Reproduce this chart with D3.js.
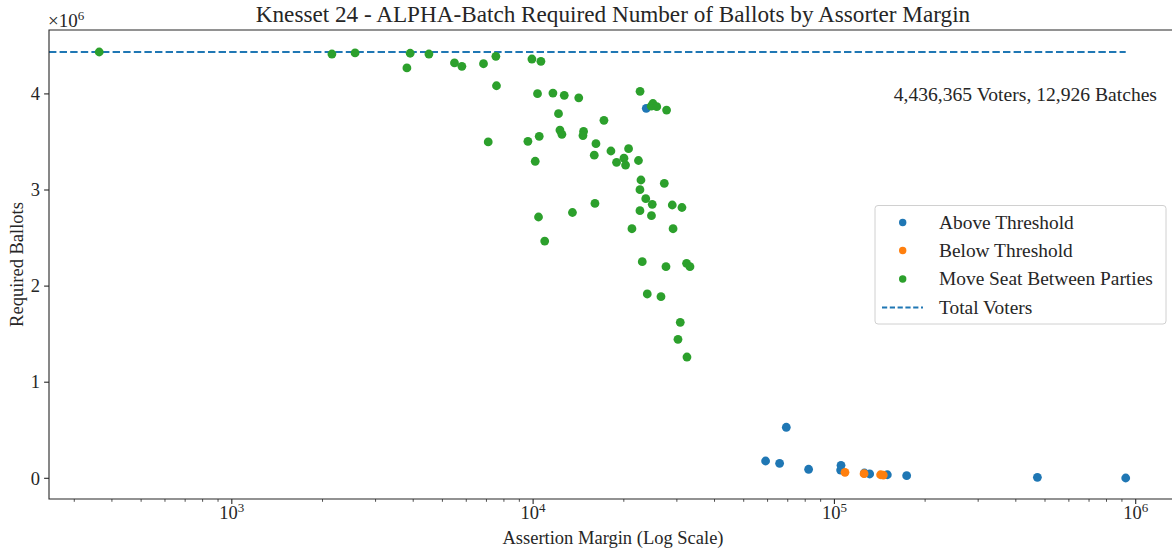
<!DOCTYPE html>
<html>
<head>
<meta charset="utf-8">
<script src="https://cdn.jsdelivr.net/npm/d3@7"></script>
<style>
  body { margin: 0; background: #fff; }
  svg { display: block; font-family: "Liberation Serif", "Times New Roman", serif; }
  text { fill: #262626; }
</style>
</head>
<body>
<svg id="chart" width="1172" height="554"></svg>
<script>
// total voters in the election (dashed reference line)
var totalVoters = 4436365;
var noteText = "4,436,365 Voters, 12,926 Batches";

// Above Threshold assertions: margin, required ballots
var aboveMargin  = [23743, 59100, 65780, 69230, 82100, 105170, 104860, 125740, 130940, 149850, 173700, 471700, 926400];
var aboveBallots = [3850000, 180000, 156000, 531000, 94000, 135000, 86000, 55000, 45000, 37000, 27000, 10000, 3000];

// Below Threshold assertions
var belowMargin  = [108430, 125440, 142330, 145300];
var belowBallots = [62000, 48000, 37000, 34000];

// Move Seat Between Parties assertions
var moveMargin = [363, 2149, 2565, 3811, 3908, 4510, 5483, 5802, 6844, 7523,
  7558, 9908, 10614, 7095, 9610, 10478, 10162, 10342, 11634, 12686,
  14172, 12140, 12274, 12461, 14703, 14636, 17182, 16164, 15955, 18125,
  20741, 20023, 18919, 20268, 22370, 22641, 22798, 22625, 27250, 23650,
  24855, 28962, 31189, 22625, 24706, 16040, 13506, 10421, 21281, 29143,
  10926, 23026, 27603, 32306, 33157, 23924, 26569, 30789, 30254, 32405,
  24987, 24666, 25726, 27730];
var moveBallots = [4436000, 4415000, 4426000, 4270000, 4423000, 4415000, 4322000, 4287000, 4314000, 4391000,
  4085000, 4363000, 4339000, 3500000, 3507000, 3559000, 3299000, 4002000, 4009000, 3985000,
  3959000, 3794000, 3624000, 3580000, 3609000, 3567000, 3725000, 3482000, 3362000, 3406000,
  3430000, 3331000, 3288000, 3260000, 3307000, 4027000, 3104000, 3003000, 3070000, 2910000,
  2851000, 2844000, 2818000, 2785000, 2733000, 2860000, 2766000, 2719000, 2597000, 2597000,
  2469000, 2254000, 2202000, 2237000, 2202000, 1918000, 1890000, 1623000, 1446000, 1262000,
  3900000, 3872000, 3867000, 3832000];

var xTicks = [1e3, 1e4, 1e5, 1e6];
var yTicks = [0, 1e6, 2e6, 3e6, 4e6];

var seriesNames = ["Above Threshold", "Below Threshold", "Move Seat Between Parties"];
var seriesColors = ["#1f77b4", "#ff7f0e", "#2ca02c"];
var lineName = "Total Voters";

var margin = {left: 49, right: 1177, top: 30, bottom: 499};

var svg = d3.select("#chart");

var x = d3.scaleLog()
    .domain([247.3, 1.371e6])
    .range([margin.left, margin.right]);
var y = d3.scaleLinear()
    .domain([-215400, 4665000])
    .range([margin.bottom, margin.top]);

var series = [
  {name: seriesNames[0], color: seriesColors[0], xs: aboveMargin, ys: aboveBallots},
  {name: seriesNames[1], color: seriesColors[1], xs: belowMargin, ys: belowBallots},
  {name: seriesNames[2], color: seriesColors[2], xs: moveMargin, ys: moveBallots}
];

var plot = svg.append("g").attr("id", "plot");

// dashed total voters line, from the left edge to the widest margin
var maxMargin = d3.max(aboveMargin.concat(belowMargin, moveMargin));
plot.append("line")
    .attr("x1", x(x.domain()[0]))
    .attr("x2", x(maxMargin))
    .attr("y1", y(totalVoters))
    .attr("y2", y(totalVoters))
    .attr("stroke", seriesColors[0])
    .attr("stroke-width", 2)
    .attr("stroke-dasharray", "7.4,3.2");

// scatter, one group per series in plotting order
series.forEach(function(s){
  plot.append("g")
      .selectAll("circle")
      .data(s.xs.map(function(v, i){ return [v, s.ys[i]]; }))
     .enter().append("circle")
      .attr("cx", d => x(d[0]))
      .attr("cy", d => y(d[1]))
      .attr("r", 4.4)
      .attr("fill", s.color);
});

// x axis, log scale with minor ticks
var minor = [];
[100, 1000, 10000, 100000, 1000000].forEach(function(dec){
  for (var k = 2; k < 10; k++) minor.push(dec * k);
});
var xAxis = svg.append("g")
    .attr("transform", "translate(0," + margin.bottom + ")");
xAxis.selectAll(".minor")
    .data(minor.filter(v => v > x.domain()[0] && v < x.domain()[1]))
   .enter().append("line")
    .attr("x1", d => x(d)).attr("x2", d => x(d))
    .attr("y1", 0).attr("y2", 2.8)
    .attr("stroke", "#262626").attr("stroke-width", 0.8);
xAxis.selectAll(".major")
    .data(xTicks)
   .enter().append("line")
    .attr("x1", d => x(d)).attr("x2", d => x(d))
    .attr("y1", 0).attr("y2", 4.9)
    .attr("stroke", "#262626").attr("stroke-width", 1.1);
var xLab = xAxis.selectAll(".xlab")
    .data(xTicks)
   .enter().append("text")
    .attr("x", d => x(d))
    .attr("y", 20)
    .attr("text-anchor", "middle")
    .style("font-size", "18.5px");
xLab.append("tspan").text("10");
xLab.append("tspan")
    .attr("dy", -7)
    .style("font-size", "13px")
    .text(d => Math.round(Math.log10(d)));

// y axis
var yAxis = svg.append("g")
    .attr("transform", "translate(" + margin.left + ",0)");
yAxis.selectAll("line")
    .data(yTicks)
   .enter().append("line")
    .attr("x1", -4.9).attr("x2", 0)
    .attr("y1", d => y(d)).attr("y2", d => y(d))
    .attr("stroke", "#262626").attr("stroke-width", 1.1);
yAxis.selectAll("text")
    .data(yTicks)
   .enter().append("text")
    .attr("x", -9)
    .attr("y", d => y(d))
    .attr("dy", "0.34em")
    .attr("text-anchor", "end")
    .style("font-size", "18.5px")
    .text(d => d / 1e6);

// offset text
var off = svg.append("text")
    .attr("x", margin.left - 1)
    .attr("y", 27)
    .style("font-size", "19px");
off.append("tspan").text("\u00d710");
off.append("tspan").attr("dy", -7).style("font-size", "13px").text("6");

// spines (right spine falls outside the picture)
svg.append("path")
    .attr("d", "M" + margin.right + "," + margin.top + "H" + margin.left + "V" + margin.bottom + "H" + margin.right)
    .attr("fill", "none")
    .attr("stroke", "#262626")
    .attr("stroke-width", 1.1);

// title and axis labels
var midX = (margin.left + margin.right) / 2;
svg.append("text")
    .attr("x", midX).attr("y", 22)
    .attr("text-anchor", "middle")
    .style("font-size", "23.2px")
    .text("Knesset 24 - ALPHA-Batch Required Number of Ballots by Assorter Margin");
svg.append("text")
    .attr("x", midX).attr("y", 544)
    .attr("text-anchor", "middle")
    .style("font-size", "18.5px")
    .text("Assertion Margin (Log Scale)");
svg.append("text")
    .attr("transform", "translate(23," + ((margin.top + margin.bottom) / 2) + ") rotate(-90)")
    .attr("text-anchor", "middle")
    .style("font-size", "18.5px")
    .text("Required Ballots");

// annotation
svg.append("text")
    .attr("x", 1157).attr("y", 101)
    .attr("text-anchor", "end")
    .style("font-size", "19.6px")
    .text(noteText);

// legend
var legend = svg.append("g").attr("transform", "translate(875,205.5)");
legend.append("rect")
    .attr("width", 291).attr("height", 118.5)
    .attr("rx", 3)
    .attr("fill", "#fff").attr("fill-opacity", 0.8)
    .attr("stroke", "#d0d0d0").attr("stroke-width", 1);
var rowY = [17, 45, 73.5, 102];
series.forEach(function(s, i){
  legend.append("circle")
      .attr("cx", 27.7).attr("cy", rowY[i])
      .attr("r", 3.7).attr("fill", s.color);
  legend.append("text")
      .attr("x", 64).attr("y", rowY[i]).attr("dy", "0.33em")
      .style("font-size", "19.4px")
      .text(s.name);
});
legend.append("line")
    .attr("x1", 7).attr("x2", 48)
    .attr("y1", rowY[3]).attr("y2", rowY[3])
    .attr("stroke", seriesColors[0]).attr("stroke-width", 2)
    .attr("stroke-dasharray", "5.2,2.6");
legend.append("text")
    .attr("x", 64).attr("y", rowY[3]).attr("dy", "0.33em")
    .style("font-size", "19.4px")
    .text(lineName);
</script>
</body>
</html>
